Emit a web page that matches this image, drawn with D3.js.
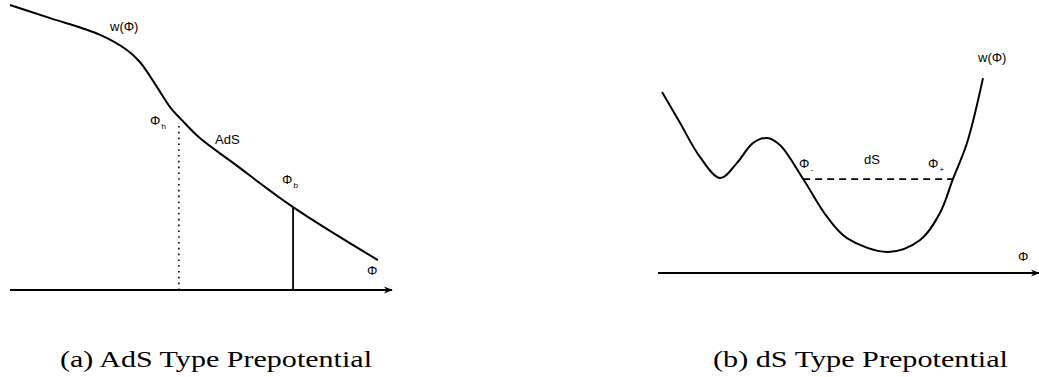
<!DOCTYPE html>
<html><head><meta charset="utf-8">
<script src="https://cdn.jsdelivr.net/npm/d3@7"></script>
<style>body{margin:0;background:#fff}svg{display:block}</style>
</head><body>
<svg id="c" width="1039" height="377"></svg>
<script>
// Panel (a): AdS type prepotential, phi vs w(phi)
const adsPhi = [0, 10.5, 23.6, 30.6, 34.0, 38.5, 41.9, 45.0, 49.7, 58.4, 74.1, 96.3];
const adsW   = [100, 95.4, 89.5, 84.2, 80.0, 71.2, 64.2, 59.6, 53.3, 44.6, 29.1, 10.5];
const phiH = 44.2, phiHTop = 59;
const phiB = 74.1, phiBW = 29.1;
// Panel (b): dS type prepotential
const dsPhi = [1.05, 5.8, 11.0, 16.3, 20.7, 24.9, 28.6, 32.0, 38.1, 44.4, 49.6, 60.4, 68.8, 74.0, 77.4, 81.1, 85.3];
const dsW   = [85.0, 70.4, 54.5, 44.6, 51.6, 61.0, 63.4, 60.1, 44.1, 26.3, 16.4, 9.9, 15.5, 28.2, 44.1, 61.0, 91.5];
const phiMinus = 38.1, phiPlus = 77.4, dsLevel = 44.1;
const captions = ["(a) AdS Type Prepotential", "(b) dS Type Prepotential"];

const svg = d3.select("#c");
const defs = svg.append("defs");
defs.append("marker").attr("id","arr").attr("viewBox","0 0 10 10").attr("refX",9).attr("refY",5)
  .attr("markerWidth",9).attr("markerHeight",9).attr("markerUnits","userSpaceOnUse").attr("orient","auto")
  .append("path").attr("d","M0,1 L10,5 L0,9 L3,5 Z").attr("fill","#000");

const sans = "'Liberation Sans', Arial, sans-serif";
const serif = "'Liberation Serif', 'DejaVu Serif', serif";

function label(x, y, main, sub, anchor) {
  const t = svg.append("text").attr("x", x).attr("y", y).attr("font-family", sans)
    .attr("font-size", 13).attr("text-anchor", anchor || "start").text(main);
  if (sub) t.append("tspan").attr("font-size", 8).attr("dy", 4).attr("dx", 1).text(sub);
  return t;
}

// ---------- Panel (a)
const xa = d3.scaleLinear().domain([0, 100]).range([10, 392]);
const ya = d3.scaleLinear().domain([0, 100]).range([290, 5]);
const lineA = d3.line().x((d,i)=>xa(adsPhi[i])).y((d,i)=>ya(adsW[i])).curve(d3.curveCatmullRom.alpha(0.5));
svg.append("line").attr("x1", xa(0)).attr("x2", xa(100)).attr("y1", ya(0)).attr("y2", ya(0))
  .attr("stroke","#000").attr("stroke-width",2).attr("marker-end","url(#arr)");
svg.append("path").attr("d", lineA(adsPhi)).attr("fill","none").attr("stroke","#000").attr("stroke-width",2);
svg.append("line").attr("x1", xa(phiH)).attr("x2", xa(phiH)).attr("y1", ya(0)).attr("y2", ya(phiHTop))
  .attr("stroke","#000").attr("stroke-width",1.6).attr("stroke-dasharray","1.6,4.2");
svg.append("line").attr("x1", xa(phiB)).attr("x2", xa(phiB)).attr("y1", ya(0)).attr("y2", ya(phiBW))
  .attr("stroke","#000").attr("stroke-width",1.8);
label(110, 31, "w(Φ)");
label(150, 125, "Φ", "h");
label(215, 144, "AdS");
label(282, 184, "Φ", "b");
label(367, 275, "Φ");

// ---------- Panel (b)
const xb = d3.scaleLinear().domain([0, 100]).range([658, 1039]);
const yb = d3.scaleLinear().domain([0, 100]).range([273, 60]);
const lineB = d3.line().x((d,i)=>xb(dsPhi[i])).y((d,i)=>yb(dsW[i])).curve(d3.curveCatmullRom.alpha(0.5));
svg.append("line").attr("x1", xb(0)).attr("x2", xb(100)).attr("y1", yb(0)).attr("y2", yb(0))
  .attr("stroke","#000").attr("stroke-width",2).attr("marker-end","url(#arr)");
svg.append("path").attr("d", lineB(dsPhi)).attr("fill","none").attr("stroke","#000").attr("stroke-width",2);
svg.append("line").attr("x1", xb(phiMinus)).attr("x2", xb(phiPlus)).attr("y1", yb(dsLevel)).attr("y2", yb(dsLevel))
  .attr("stroke","#000").attr("stroke-width",1.8).attr("stroke-dasharray","7,5");
label(978, 62, "w(Φ)");
label(799, 168, "Φ", "-");
label(864, 164, "dS");
label(928, 168, "Φ", "+");
label(1018, 261, "Φ");

// Captions
svg.append("text").attr("x", 60).attr("y", 367).attr("font-family", serif).attr("font-size", 23)
  .attr("textLength", 312).attr("lengthAdjust","spacingAndGlyphs").text(captions[0]);
svg.append("text").attr("x", 713).attr("y", 367).attr("font-family", serif).attr("font-size", 23)
  .attr("textLength", 295).attr("lengthAdjust","spacingAndGlyphs").text(captions[1]);
</script>
</body></html>
